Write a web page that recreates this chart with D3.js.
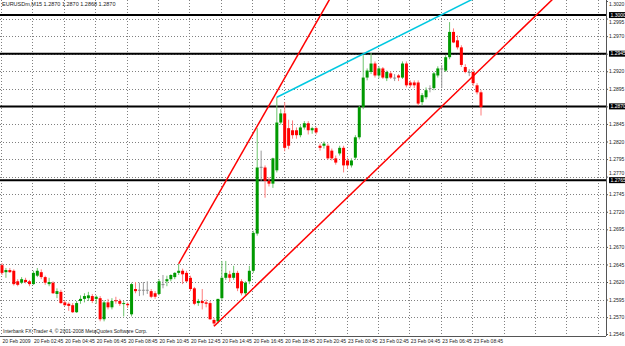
<!DOCTYPE html>
<html>
<head>
<meta charset="utf-8">
<script src="https://cdn.jsdelivr.net/npm/d3@7/dist/d3.min.js"></script>
<style>
  html, body { margin: 0; padding: 0; background: #fff; }
  svg { display: block; font-family: "Liberation Sans", Arial, sans-serif; }
</style>
</head>
<body>
<div id="chart"></div>
<script>
// chart header and footer text
const titleText = "EURUSDm,M15  1.2870 1.2870 1.2868 1.2870";
const copyrightText = "Interbank FX-Trader 4, \u00a9 2001-2008 MetaQuotes Software Corp.";

// M15 bars
const opens = [
  1.2644,1.2634,1.2637,1.2636,1.2621,1.2619,1.2623,1.2621,1.2617,1.2629,
  1.2634,1.2627,1.2617,1.2619,1.2603,1.2606,1.2591,1.2589,1.2587,1.2577,
  1.2593,1.2596,1.2597,1.2600,1.2596,1.2597,1.2567,1.2591,1.2584,1.2594,
  1.2593,1.2589,1.2589,1.2574,1.2610,1.2609,1.2609,1.2609,1.2607,1.2604,
  1.2603,1.2617,1.2621,1.2624,1.2627,1.2633,1.2636,1.2633,1.2626,1.2611,
  1.2590,1.2593,1.2591,1.2590,1.2566,1.2564,1.2597,1.2626,1.2631,1.2626,
  1.2633,1.2621,1.2604,1.2621,1.2636,1.2689,1.2784,1.2783,1.2764,1.2760,
  1.2779,1.2847,1.2860,1.2839,1.2836,1.2836,1.2829,1.2840,1.2846,1.2836,
  1.2839,1.2814,1.2814,1.2814,1.2807,1.2796,1.2803,1.2811,1.2793,1.2786,
  1.2797,1.2826,1.2869,1.2911,1.2919,1.2931,1.2914,1.2924,1.2910,1.2917,
  1.2911,1.2914,1.2911,1.2931,1.2904,1.2904,1.2904,1.2876,1.2883,1.2896,
  1.2896,1.2914,1.2924,1.2921,1.2940,1.2976,1.2964,1.2954,1.2926,1.2919,
  1.2919,1.2900,1.2890
];
const highs = [
  1.2647,1.2640,1.2640,1.2638,1.2624,1.2627,1.2626,1.2623,1.2636,1.2640,
  1.2638,1.2629,1.2626,1.2621,1.2611,1.2609,1.2594,1.2591,1.2590,1.2593,
  1.2601,1.2604,1.2606,1.2603,1.2601,1.2600,1.2594,1.2596,1.2597,1.2599,
  1.2596,1.2593,1.2591,1.2619,1.2620,1.2619,1.2620,1.2621,1.2610,1.2607,
  1.2624,1.2630,1.2629,1.2631,1.2634,1.2646,1.2639,1.2636,1.2629,1.2613,
  1.2596,1.2610,1.2595,1.2593,1.2569,1.2596,1.2650,1.2650,1.2636,1.2643,
  1.2636,1.2624,1.2621,1.2643,1.2693,1.2839,1.2807,1.2786,1.2769,1.2797,
  1.2883,1.2866,1.2876,1.2851,1.2850,1.2840,1.2843,1.2849,1.2849,1.2841,
  1.2841,1.2817,1.2820,1.2817,1.2810,1.2800,1.2814,1.2814,1.2797,1.2796,
  1.2829,1.2871,1.2943,1.2924,1.2946,1.2934,1.2927,1.2926,1.2921,1.2920,
  1.2916,1.2916,1.2934,1.2934,1.2907,1.2907,1.2907,1.2889,1.2897,1.2900,
  1.2919,1.2927,1.2929,1.2943,1.2990,1.2981,1.2971,1.2957,1.2930,1.2923,
  1.2923,1.2903,1.2893
];
const lows = [
  1.2630,1.2626,1.2633,1.2615,1.2614,1.2617,1.2618,1.2614,1.2616,1.2627,
  1.2624,1.2616,1.2614,1.2603,1.2597,1.2589,1.2586,1.2579,1.2576,1.2576,
  1.2589,1.2591,1.2593,1.2590,1.2589,1.2564,1.2564,1.2581,1.2581,1.2589,
  1.2586,1.2571,1.2583,1.2571,1.2604,1.2600,1.2601,1.2603,1.2597,1.2596,
  1.2601,1.2611,1.2614,1.2621,1.2624,1.2630,1.2617,1.2620,1.2607,1.2587,
  1.2586,1.2581,1.2584,1.2566,1.2557,1.2561,1.2594,1.2623,1.2620,1.2623,
  1.2607,1.2601,1.2601,1.2617,1.2633,1.2686,1.2764,1.2740,1.2756,1.2754,
  1.2776,1.2844,1.2806,1.2809,1.2824,1.2824,1.2826,1.2837,1.2830,1.2831,
  1.2830,1.2807,1.2810,1.2794,1.2793,1.2787,1.2800,1.2776,1.2781,1.2783,
  1.2794,1.2823,1.2866,1.2907,1.2916,1.2911,1.2910,1.2909,1.2906,1.2909,
  1.2906,1.2906,1.2909,1.2897,1.2897,1.2896,1.2871,1.2871,1.2880,1.2890,
  1.2893,1.2911,1.2896,1.2919,1.2937,1.2960,1.2951,1.2926,1.2917,1.2913,
  1.2899,1.2887,1.2857
];
const closes = [
  1.2633,1.2637,1.2634,1.2617,1.2616,1.2624,1.2620,1.2617,1.2633,1.2636,
  1.2627,1.2619,1.2620,1.2604,1.2607,1.2590,1.2587,1.2586,1.2577,1.2590,
  1.2596,1.2600,1.2601,1.2593,1.2599,1.2567,1.2591,1.2584,1.2593,1.2593,
  1.2589,1.2590,1.2587,1.2617,1.2607,1.2609,1.2609,1.2609,1.2599,1.2599,
  1.2621,1.2617,1.2624,1.2630,1.2633,1.2636,1.2631,1.2621,1.2610,1.2589,
  1.2593,1.2590,1.2589,1.2567,1.2561,1.2596,1.2626,1.2633,1.2626,1.2633,
  1.2611,1.2604,1.2619,1.2636,1.2690,1.2783,1.2784,1.2764,1.2760,1.2796,
  1.2847,1.2860,1.2811,1.2814,1.2829,1.2829,1.2840,1.2846,1.2836,1.2839,
  1.2833,1.2811,1.2817,1.2796,1.2796,1.2790,1.2811,1.2786,1.2786,1.2793,
  1.2826,1.2869,1.2911,1.2921,1.2931,1.2914,1.2924,1.2911,1.2919,1.2911,
  1.2911,1.2911,1.2931,1.2900,1.2900,1.2900,1.2874,1.2886,1.2893,1.2896,
  1.2917,1.2924,1.2924,1.2940,1.2976,1.2961,1.2954,1.2929,1.2919,1.2919,
  1.2903,1.2890,1.2869
];

// time axis: one label every 8 bars
const timeLabels = [
  "20 Feb 2009","20 Feb 02:45","20 Feb 04:45","20 Feb 06:45","20 Feb 08:45",
  "20 Feb 10:45","20 Feb 12:45","20 Feb 14:45","20 Feb 16:45","20 Feb 18:45",
  "20 Feb 20:45","23 Feb 00:45","23 Feb 02:45","23 Feb 04:45","23 Feb 06:45",
  "23 Feb 08:45"
];
const barsPerLabel = 8;

// price axis
const priceTop = 1.3020;
const priceBottom = 1.2546;
const priceTicks = [1.2995,1.2970,1.2945,1.2920,1.2895,1.2870,1.2845,1.2820,1.2795,
  1.2770,1.2745,1.2720,1.2695,1.2670,1.2645,1.2620,1.2595,1.2570];

// horizontal levels and trend lines: [bar, price]
const levels = [1.3000, 1.2945, 1.2870, 1.2765];
const trendSteep = [[45, 1.2646], [69, 1.2881]];
const trendSupport = [[54, 1.2557], [122, 1.2924]];
const trendCyan = [[70, 1.2883], [100, 1.2967]];

const w = 625;
const h = 346;
const plotRight = 606;
const plotBottom = 336;
const font = '"Liberation Sans", Arial, sans-serif';

const svg = d3.select('#chart')
  .append('svg')
  .attr('width', w)
  .attr('height', h);

const x = d3.scaleLinear()
  .domain([0, opens.length - 1])
  .range([2, 481]);

const y = d3.scaleLinear()
  .domain([priceBottom, priceTop])
  .range([334, 1]);

svg.append('defs').append('clipPath')
  .attr('id', 'plot')
  .append('rect')
  .attr('x', 0).attr('y', 0)
  .attr('width', plotRight).attr('height', plotBottom);

// grid
const nGrid = Math.floor(x.invert(plotRight) / barsPerLabel);
const gridBars = d3.range(0, nGrid + 1).map(i => i * barsPerLabel);

svg.append('g')
  .selectAll('line')
  .data(priceTicks)
  .enter()
  .append('line')
  .attr('x1', 0).attr('x2', plotRight)
  .attr('y1', d => Math.round(y(d)) + 0.5)
  .attr('y2', d => Math.round(y(d)) + 0.5)
  .attr('stroke', '#808080')
  .attr('stroke-dasharray', '1,2');

svg.append('g')
  .selectAll('line')
  .data(gridBars)
  .enter()
  .append('line')
  .attr('x1', d => Math.round(x(d)) - 0.5)
  .attr('x2', d => Math.round(x(d)) - 0.5)
  .attr('y1', 0).attr('y2', plotBottom)
  .attr('stroke', '#808080')
  .attr('stroke-dasharray', '1,2');

// horizontal level lines
svg.append('g')
  .selectAll('line')
  .data(levels)
  .enter()
  .append('line')
  .attr('x1', 0).attr('x2', plotRight)
  .attr('y1', d => y(d)).attr('y2', d => y(d))
  .attr('stroke', '#000')
  .attr('stroke-width', 2);

// candles
const bars = opens.map((o, i) => ({
  i: i, o: o, h: highs[i], l: lows[i], c: closes[i]
}));
const candleColor = d => d.c > d.o ? '#009900' : (d.c < d.o ? '#ff0000' : '#8c8c8c');
const wickColor = d => d.c > d.o ? '#6cc46c' : (d.c < d.o ? '#ff7a7a' : '#9a9a9a');

const candles = svg.append('g').selectAll('g')
  .data(bars)
  .enter()
  .append('g');

candles.append('line')
  .attr('x1', d => x(d.i)).attr('x2', d => x(d.i))
  .attr('y1', d => y(d.h)).attr('y2', d => y(d.l))
  .attr('stroke', wickColor)
  .attr('stroke-width', 1);

candles.append('rect')
  .attr('x', d => x(d.i) - 1.5)
  .attr('width', 3)
  .attr('y', d => y(Math.max(d.o, d.c)))
  .attr('height', d => Math.max(1, Math.abs(y(d.o) - y(d.c))))
  .attr('fill', candleColor);

// trend lines, extended to the chart edge
const trendLine = (pts, color) => {
  const [a, b] = pts;
  const slope = (y(b[1]) - y(a[1])) / (x(b[0]) - x(a[0]));
  const x0 = x(a[0]), y0 = y(a[1]);
  const x1 = plotRight, y1 = y0 + slope * (x1 - x0);
  svg.append('line')
    .attr('clip-path', 'url(#plot)')
    .attr('x1', x0).attr('y1', y0)
    .attr('x2', x1).attr('y2', y1)
    .attr('stroke', color)
    .attr('stroke-width', 1.5);
};
trendLine(trendSteep, '#ff0000');
trendLine(trendSupport, '#ff0000');
trendLine(trendCyan, '#00c8e0');

// frame
svg.append('line')
  .attr('x1', plotRight + 0.5).attr('x2', plotRight + 0.5)
  .attr('y1', 0).attr('y2', plotBottom)
  .attr('stroke', '#555');
svg.append('line')
  .attr('x1', 0).attr('x2', plotRight)
  .attr('y1', plotBottom + 0.5).attr('y2', plotBottom + 0.5)
  .attr('stroke', '#555');

// price axis
const yAxis = d3.axisRight(y)
  .tickValues([priceTop].concat(priceTicks, [priceBottom]))
  .tickSize(2)
  .tickPadding(1)
  .tickFormat(d3.format('.4f'));

// labels that sit next to a level box are pushed clear of it
const labelNudge = d => {
  if (d === priceTop) return 3;
  const near = levels.find(l => Math.abs(l - d) < 0.0008 && l !== d);
  if (near === undefined) return 0;
  return d < near ? 3 : -4;
};

svg.append('g')
  .attr('transform', 'translate(' + plotRight + ',0)')
  .call(yAxis)
  .call(g => g.select('.domain').remove())
  .call(g => g.selectAll('text')
    .attr('font-size', 5)
    .attr('font-family', font)
    .attr('fill', '#222')
    .attr('y', d => labelNudge(d)))
  .call(g => g.selectAll('line').attr('stroke', '#555'));

// level labels in black boxes
const levelTags = svg.append('g').selectAll('g')
  .data(levels)
  .enter()
  .append('g')
  .attr('transform', d => 'translate(' + (plotRight + 3) + ',' + y(d) + ')');
levelTags.append('rect')
  .attr('x', 0).attr('y', -3)
  .attr('width', 17).attr('height', 6)
  .attr('fill', '#000');
levelTags.append('text')
  .attr('x', 1.5).attr('dy', '0.35em')
  .attr('font-size', 5)
  .attr('font-family', font)
  .attr('fill', '#fff')
  .text(d => d3.format('.4f')(d));

// time axis
const xAxis = d3.axisBottom(x)
  .tickValues(timeLabels.map((t, i) => i * barsPerLabel))
  .tickSize(0)
  .tickPadding(3)
  .tickFormat((d, i) => timeLabels[i]);

svg.append('g')
  .attr('transform', 'translate(0,' + plotBottom + ')')
  .call(xAxis)
  .call(g => g.select('.domain').remove())
  .call(g => g.selectAll('text')
    .attr('text-anchor', 'start')
    .attr('font-size', 5)
    .attr('font-family', font)
    .attr('fill', '#222'));

// header and footer
svg.append('text')
  .attr('x', 2).attr('y', 6)
  .attr('font-size', 5.5)
  .attr('font-family', font)
  .attr('fill', '#222')
  .text(titleText);

svg.append('text')
  .attr('x', 3).attr('y', 333)
  .attr('font-size', 5)
  .attr('font-family', font)
  .attr('fill', '#222')
  .text(copyrightText);
</script>
</body>
</html>
